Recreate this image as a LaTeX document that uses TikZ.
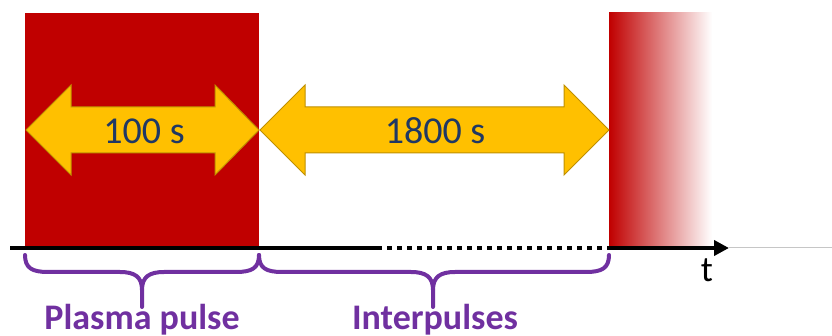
\documentclass[tikz,border=0pt]{standalone}
\usepackage{fontspec}
\setmainfont{Carlito}
\usetikzlibrary{arrows.meta}
\definecolor{pulsered}{HTML}{C00000}
\definecolor{arrowfill}{HTML}{FFC000}
\definecolor{arrowedge}{HTML}{BF9000}
\definecolor{navy}{HTML}{1F3864}
\definecolor{bracecol}{HTML}{7030A0}
\begin{document}
\begin{tikzpicture}[x=1pt,y=-1pt,
  dblarrow/.style={fill=arrowfill, draw=arrowedge, line width=1pt, line join=miter},
  durlabel/.style={text=navy, font=\fontsize{38}{40}\selectfont, inner sep=0},
  bracestyle/.style={draw=bracecol, line width=4pt, line cap=round},
  bracelabel/.style={text=bracecol, font=\bfseries\fontsize{36}{38}\selectfont, inner sep=0, anchor=base},
  axisline/.style={line width=4.5pt, black}]
\useasboundingbox (0,0) rectangle (832,336);
% pulses
\fill[pulsered] (25,13) rectangle (259,246);
\shade[left color=pulsered, right color=white] (609,13) rectangle (712,246);
% axis
\coordinate (a0) at (10,248);
\coordinate (a1) at (377,248);
\coordinate (a2) at (609,248);
\coordinate (a3) at (729,248);
\coordinate (aend) at (832,248);
\draw[gray!45, line width=1pt] (a3) -- (aend);
\draw[axisline] (a0) -- (a1);
\draw[axisline, dash pattern=on 5pt off 5pt] (a1) -- (a2);
\draw[axisline, -{Triangle[length=15pt,width=15pt]}] ([xshift=-2pt]a2) -- (a3);
\node[font=\fontsize{36}{38}\selectfont, inner sep=0, anchor=base] (t) at (707,282) {t};
% double arrows
\draw[dblarrow] (26,130) -- (71,85) -- (71,107) -- (215,107) -- (215,85) -- (259,130)
  -- (215,175) -- (215,153) -- (71,153) -- (71,175) -- cycle;
\node[durlabel] (d1) at (144,131) {100 s};
\draw[dblarrow] (260,130) -- (305,85) -- (305,107) -- (564,107) -- (564,85) -- (609,130)
  -- (564,175) -- (564,153) -- (305,153) -- (305,175) -- cycle;
\node[durlabel] (d2) at (435,131) {1800 s};
% braces
\draw[bracestyle] (25,255) .. controls (25,268) and (32,272) .. (48,272) -- (120,272)
  .. controls (135,272) and (142,277) .. (142,290) -- (142,307);
\draw[bracestyle] (259,255) .. controls (259,268) and (252,272) .. (236,272) -- (164,272)
  .. controls (149,272) and (142,277) .. (142,290);
\draw[bracestyle] (259,255) .. controls (259,268) and (266,272) .. (282,272) -- (411,272)
  .. controls (426,272) and (433,277) .. (433,290) -- (433,307);
\draw[bracestyle] (609,255) .. controls (609,268) and (602,272) .. (586,272) -- (455,272)
  .. controls (440,272) and (433,277) .. (433,290);
\node[bracelabel] (l1) at (142,330) {Plasma pulse};
\node[bracelabel] (l2) at (435,330) {Interpulses};
\end{tikzpicture}
\end{document}
